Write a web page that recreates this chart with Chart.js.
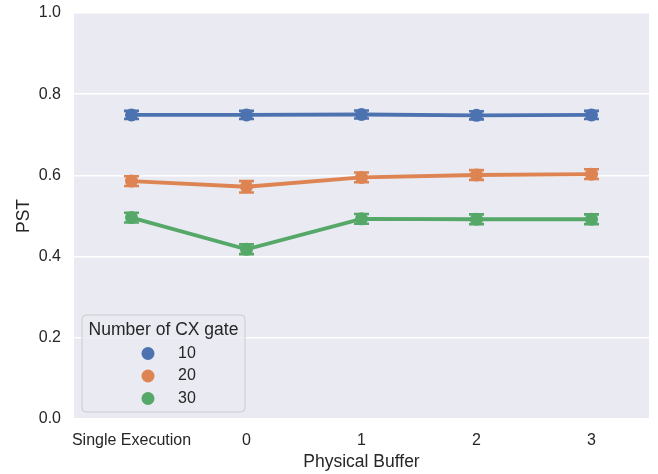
<!DOCTYPE html>
<html>
<head>
<meta charset="utf-8">
<script src="https://cdn.jsdelivr.net/npm/chart.js@4/dist/chart.umd.min.js"></script>
<style>
  html, body { margin: 0; padding: 0; background: #ffffff; }
  #wrap { width: 658px; height: 474px; }
</style>
</head>
<body>
<div id="wrap"><canvas id="c" width="658" height="474"></canvas></div>
<script>
// Categories along the x axis (physical buffer setting)
const categories = ['Single Execution', '0', '1', '2', '3'];

// Mean PST per number of CX gates
const pst10 = [0.749, 0.749, 0.750, 0.748, 0.749];
const pst20 = [0.586, 0.572, 0.595, 0.601, 0.603];
const pst30 = [0.496, 0.418, 0.493, 0.492, 0.492];

// Half-width of the confidence interval for each point
const err10 = [0.010, 0.010, 0.010, 0.010, 0.010];
const err20 = [0.012, 0.014, 0.012, 0.012, 0.012];
const err30 = [0.012, 0.012, 0.012, 0.012, 0.012];

const seriesLabels = ['10', '20', '30'];
const yTicks = [0.0, 0.2, 0.4, 0.6, 0.8, 1.0];

const colors = ['#4C72B0', '#DD8452', '#55A868'];
const textColor = '#262626';
const FONT = '"Liberation Sans", Arial, sans-serif';

const seriesValues = [pst10, pst20, pst30];
const seriesErrors = [err10, err20, err30];

// Plot background in seaborn "darkgrid" style
const bgPlugin = {
  id: 'bg',
  beforeDraw(chart) {
    const { ctx, chartArea: a } = chart;
    ctx.save();
    ctx.fillStyle = '#EAEAF2';
    ctx.fillRect(a.left, a.top, a.right - a.left, a.bottom - a.top);
    ctx.restore();
  }
};

// Vertical error bars with caps, placed through the chart scales
const errorBarPlugin = {
  id: 'errorBars',
  afterDatasetsDraw(chart) {
    const { ctx } = chart;
    const xs = chart.scales.x, ys = chart.scales.y;
    ctx.save();
    chart.data.datasets.forEach((ds, di) => {
      const errs = seriesErrors[di];
      ctx.strokeStyle = ds.borderColor;
      ctx.lineWidth = 2.6;
      ds.data.forEach((v, i) => {
        const x = xs.getPixelForValue(i);
        const yLo = ys.getPixelForValue(v - errs[i]);
        const yHi = ys.getPixelForValue(v + errs[i]);
        const cap = 7.5;
        ctx.beginPath();
        ctx.moveTo(x, yLo); ctx.lineTo(x, yHi);
        ctx.moveTo(x - cap, yLo); ctx.lineTo(x + cap, yLo);
        ctx.moveTo(x - cap, yHi); ctx.lineTo(x + cap, yHi);
        ctx.stroke();
      });
    });
    ctx.restore();
  }
};

// Legend box drawn inside the lower-left corner of the plot
const legendPlugin = {
  id: 'innerLegend',
  afterDraw(chart) {
    const { ctx, chartArea: a } = chart;
    const x0 = a.left + 8, y0 = a.bottom - 104, w = 163, h = 97, r = 4;
    ctx.save();
    ctx.beginPath();
    ctx.moveTo(x0 + r, y0);
    ctx.arcTo(x0 + w, y0, x0 + w, y0 + h, r);
    ctx.arcTo(x0 + w, y0 + h, x0, y0 + h, r);
    ctx.arcTo(x0, y0 + h, x0, y0, r);
    ctx.arcTo(x0, y0, x0 + w, y0, r);
    ctx.closePath();
    ctx.fillStyle = 'rgba(234,234,242,0.8)';
    ctx.fill();
    ctx.strokeStyle = '#CCCCCC';
    ctx.lineWidth = 1;
    ctx.stroke();

    ctx.fillStyle = textColor;
    ctx.font = '17.5px ' + FONT;
    ctx.textBaseline = 'middle';
    ctx.textAlign = 'center';
    ctx.fillText('Number of CX gate', x0 + w / 2, y0 + 15);

    ctx.font = '16px ' + FONT;
    chart.data.datasets.forEach((ds, i) => {
      const cy = y0 + 38.5 + i * 22.5;
      ctx.beginPath();
      ctx.arc(x0 + 66, cy, 6.5, 0, Math.PI * 2);
      ctx.fillStyle = ds.borderColor;
      ctx.fill();
      ctx.fillStyle = textColor;
      ctx.textAlign = 'left';
      ctx.fillText(ds.label, x0 + 96, cy);
    });
    ctx.restore();
  }
};

const datasets = seriesLabels.map((lab, i) => ({
  label: lab,
  data: seriesValues[i],
  borderColor: colors[i],
  backgroundColor: colors[i],
  borderWidth: 3.8,
  pointRadius: 6.5,
  pointBorderWidth: 0,
  pointHoverRadius: 6.5,
  tension: 0
}));

new Chart(document.getElementById('c'), {
  type: 'line',
  data: { labels: categories, datasets },
  plugins: [bgPlugin, errorBarPlugin, legendPlugin],
  options: {
    responsive: false,
    animation: false,
    events: [],
    layout: { padding: { top: 13, right: 9, left: 0, bottom: 0 } },
    plugins: { legend: { display: false }, tooltip: { enabled: false } },
    scales: {
      x: {
        type: 'category',
        offset: true,
        grid: { display: false, drawTicks: false },
        border: { display: false },
        ticks: { color: textColor, font: { size: 16, family: FONT }, padding: 12,
                 maxRotation: 0, autoSkip: false },
        title: { display: true, text: 'Physical Buffer', color: textColor,
                 font: { size: 17.5, family: FONT }, padding: { top: 2, bottom: 1 } },
        afterFit(s) { s.height = 55; s.paddingLeft = 0; s.paddingRight = 0; }
      },
      y: {
        min: 0, max: 1,
        afterBuildTicks(s) { s.ticks = yTicks.map(v => ({ value: v })); },
        grid: { color: '#FFFFFF', lineWidth: 1.5, drawTicks: false },
        border: { display: false },
        ticks: { color: textColor, font: { size: 16, family: FONT }, padding: 13,
                 callback: v => Number(v).toFixed(1) },
        title: { display: true, text: 'PST', color: textColor,
                 font: { size: 17.5, family: FONT }, padding: { top: 14, bottom: 0 } },
        afterFit(s) { s.width = 74; s.paddingTop = 0; s.paddingBottom = 0; }
      }
    }
  }
});
</script>
</body>
</html>
